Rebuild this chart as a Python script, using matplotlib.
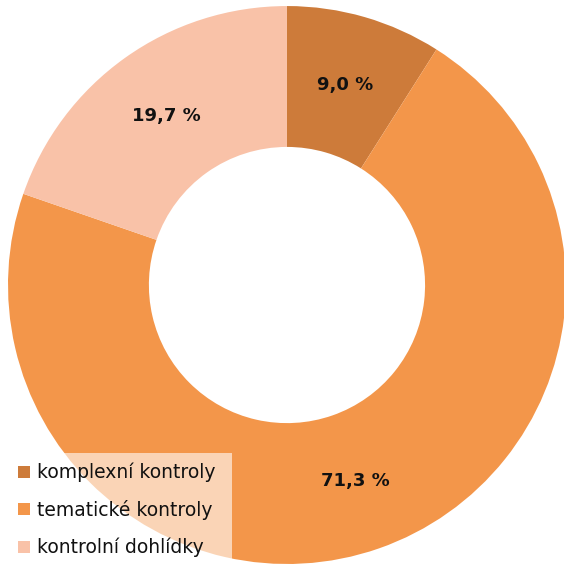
import numpy as np
import matplotlib.pyplot as plt
from matplotlib.patches import Patch, Rectangle

categories = ['komplexní kontroly', 'tematické kontroly', 'kontrolní dohlídky']
shares = [9.0, 71.3, 19.7]
colors = ['#CD7B3A', '#F3964A', '#F9C2A8']

W, H = 564, 566
fig = plt.figure(figsize=(W / 100, H / 100), dpi=100)
ax = fig.add_axes([0, 0, 1, 1])

wedges, texts = ax.pie(shares, colors=colors, startangle=90, counterclock=False,
                       radius=1.0, wedgeprops=dict(width=0.505, linewidth=0))

# percent labels in the middle of the ring
cum = 0
for v in shares:
    mid = np.deg2rad(90 - (cum + v / 2) * 3.6)
    cum += v
    ax.text(0.745 * np.cos(mid), 0.745 * np.sin(mid),
            f'{v:.1f} %'.replace('.', ','), ha='center', va='center',
            fontsize=13, fontweight='bold', color='#111111')

ax.set_xlim(-1.0287, 0.993)
ax.set_ylim(-1.007, 1.0215)
ax.set_aspect('equal')
ax.axis('off')

# translucent white box behind the legend
fig.patches.append(Rectangle((0, 0), 232 / W, 113 / H, transform=fig.transFigure,
                             facecolor='white', alpha=0.6, edgecolor='none',
                             zorder=3))

handles = [Patch(facecolor=c, edgecolor='none') for c in colors]
leg = fig.legend(handles, categories, loc='center left',
                 bbox_to_anchor=(18 / W, (H - 510) / H), fontsize=13.5,
                 frameon=False, handlelength=0.62, handleheight=0.62,
                 handletextpad=0.4, labelspacing=0.95, borderpad=0,
                 borderaxespad=0)
leg.set_zorder(4)
for t in leg.get_texts():
    t.set_color('#111111')

fig.savefig('out.png', dpi=100)
